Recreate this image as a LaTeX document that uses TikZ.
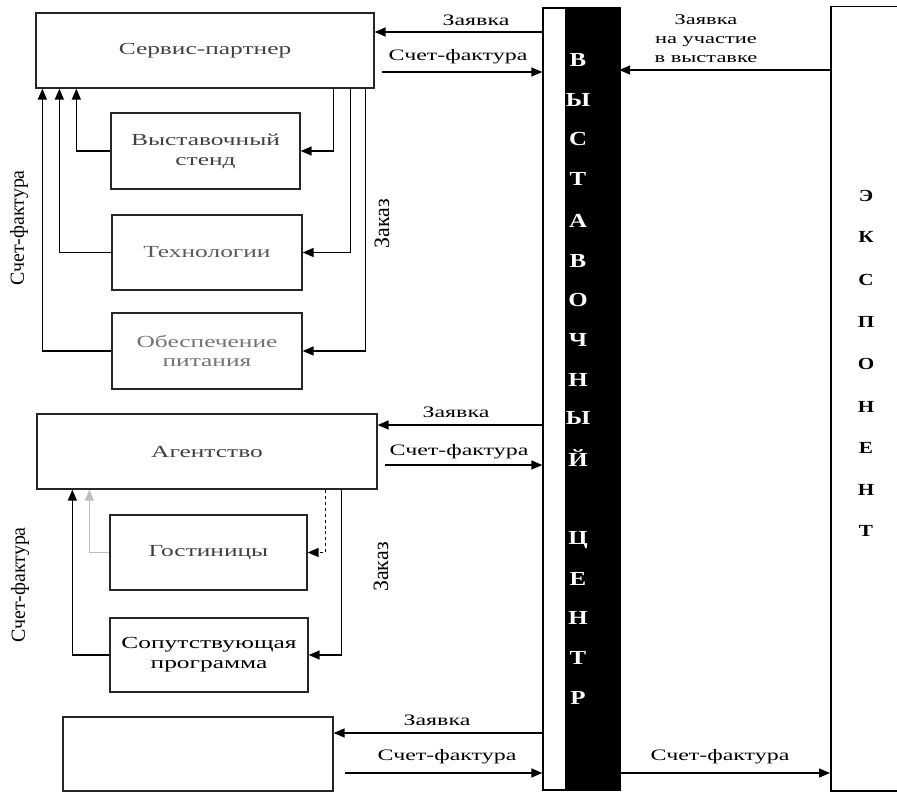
\documentclass[tikz,border=0pt]{standalone}
\usepackage{fontspec}
\setmainfont{Liberation Serif}[FakeStretch=1.5]
\newfontfamily\plainfont{Liberation Serif}
\newfontfamily\widebold{Liberation Serif Bold}[FakeStretch=1.25]
\usetikzlibrary{arrows.meta}
\begin{document}
\begin{tikzpicture}[x=1bp,y=-1bp,
  box/.style={draw=black!85, line width=1.3bp, inner sep=2bp, align=center, text=black!75, font=\fontsize{17}{20}\selectfont},
  arr/.style={line width=1.4bp, -{Triangle[length=11bp,width=9bp]}},
  lab/.style={font=\fontsize{16}{18}\selectfont, inner sep=1bp},
  vlab/.style={font=\plainfont\fontsize{20}{22}\selectfont, rotate=90, inner sep=1bp},
  col/.style={text=white, font=\widebold\fontsize{20}{22}\selectfont, inner sep=0},
  exl/.style={font=\widebold\fontsize{17}{20}\selectfont, inner sep=0}
]
\useasboundingbox (0,0) rectangle (897,792);

% boxes
\node[box, minimum width=338bp, minimum height=75bp] (sp) at (205,50.5) {Сервис-партнер};
\node[box, minimum width=189bp, minimum height=76bp] (vs) at (205.5,151) {Выставочный\\стенд};
\node[box, minimum width=190bp, minimum height=75bp, text=black!65] (tech) at (207,252.5) {Технологии};
\node[box, minimum width=190bp, minimum height=76bp, text=black!55] (food) at (207,351) {Обеспечение\\питания};
\node[box, minimum width=340bp, minimum height=75bp] (ag) at (207,451.5) {Агентство};
\node[box, minimum width=197bp, minimum height=75bp] (hotel) at (208.5,552.5) {Гостиницы};
\node[box, minimum width=198bp, minimum height=74bp, text=black] (prog) at (209,655) {Сопутствующая\\программа};
\node[box, minimum width=270bp, minimum height=74bp] (blank) at (198,754) {};

% exhibition centre column
\node[draw, line width=1.3bp, minimum width=77bp, minimum height=782bp, inner sep=0] (vc) at (581.5,399) {};
\node[fill=black, minimum width=54bp, minimum height=782bp, inner sep=0] (vcb) at (592,399) {};
\foreach \t/\y [count=\i] in {В/60,Ы/100,С/139,Т/179,А/221,В/261,О/300,Ч/340,Н/380,Ы/418,Й/458,Ц/540,Е/579,Н/618,Т/658,Р/698}
  \node[col] (c\i) at (578,\y) {\t};

% exhibitor
\node[draw, line width=1.5bp, minimum width=80bp, minimum height=784bp, inner sep=0, anchor=north west] (ex) at (830,6) {};
\foreach \t/\y [count=\i] in {Э/196,К/237,С/280,П/322,О/364,Н/407,Е/448,Н/490,Т/531}
  \node[exl] (e\i) at (866,\y) {\t};

% service partner flows
\coordinate (sf1) at (382,72);
\draw[arr] (vc.west |- 0,32) -- (sp.east |- 0,32);
\draw[arr] (sf1) -- (vc.west |- sf1);
\node[lab] (l1) at (476,20) {Заявка};
\node[lab] (l2) at (458,57) {Счет-фактура};

\draw[arr] (ex.west |- 0,70) -- (vcb.east |- 0,70);
\node[lab, align=center, font=\fontsize{15}{19}\selectfont] (l3) at (706,39) {Заявка\\на участие\\в выставке};

\draw[arr] (vs.west) -| ([xshift=41bp]sp.south west);
\draw[arr] (tech.west) -| ([xshift=24bp]sp.south west);
\draw[arr] (food.west) -| ([xshift=7bp]sp.south west);
\draw[arr] ([xshift=-41bp]sp.south east) |- (vs.east);
\draw[arr] ([xshift=-24bp]sp.south east) |- (tech.east);
\draw[arr] ([xshift=-9bp]sp.south east) |- (food.east);
\node[vlab, font=\plainfont\fontsize{22}{24}\selectfont] (z1) at (382,224) {Заказ};
\node[vlab] (s1) at (19,228) {Счет-фактура};

% agency flows
\coordinate (sf2) at (385,465);
\draw[arr] (vc.west |- 0,425) -- (ag.east |- 0,425);
\draw[arr] (sf2) -- (vc.west |- sf2);
\node[lab] (l4) at (456,412) {Заявка};
\node[lab] (l5) at (459,452) {Счет-фактура};

\draw[arr] (prog.west) -| ([xshift=36bp]ag.south west);
\draw[arr, draw=black!25] (hotel.west) -| ([xshift=53bp]ag.south west);
\draw[arr, dashed] ([xshift=-52bp]ag.south east) |- (hotel.east);
\draw[arr] ([xshift=-36bp]ag.south east) |- (prog.east);
\node[vlab, font=\plainfont\fontsize{22}{24}\selectfont] (z2) at (381,567) {Заказ};
\node[vlab] (s2) at (20,585) {Счет-фактура};

% bottom box flows
\coordinate (sf3) at (345,773);
\draw[arr] (vc.west |- 0,733) -- (blank.east |- 0,733);
\draw[arr] (sf3) -- (vc.west |- sf3);
\node[lab] (l6) at (437,720) {Заявка};
\node[lab] (l7) at (447,757) {Счет-фактура};

\draw[arr] (vcb.east |- 0,773) -- (ex.west |- 0,773);
\node[lab] (l8) at (720,757) {Счет-фактура};
\end{tikzpicture}
\end{document}
